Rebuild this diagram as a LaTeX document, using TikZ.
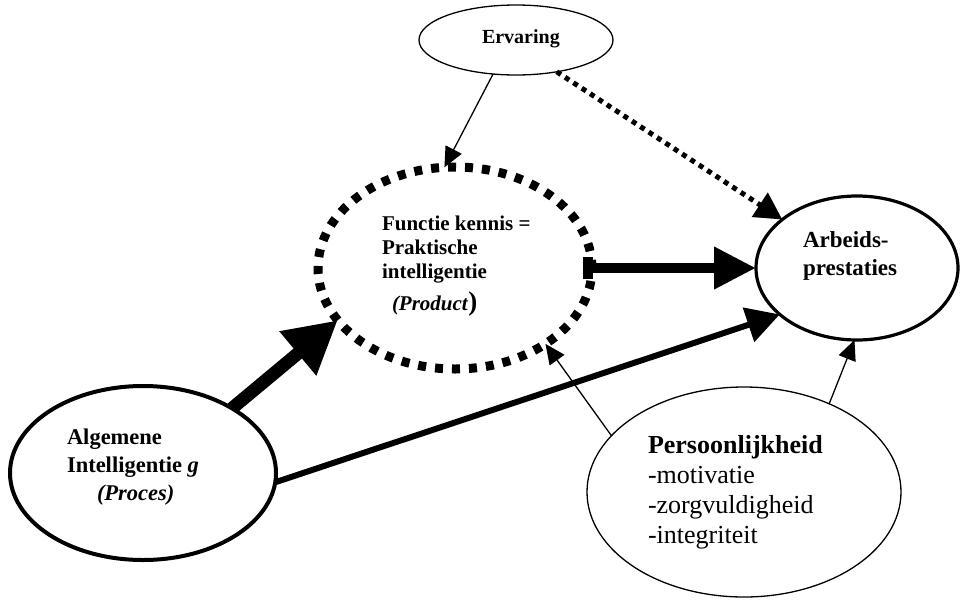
\documentclass[tikz,border=0pt]{standalone}
\usepackage{fontspec}
\setmainfont{Liberation Serif}
\usetikzlibrary{arrows.meta,shapes.geometric}
\begin{document}
\begin{tikzpicture}[x=1pt,y=-1pt,
  ell/.style={draw, ellipse, inner sep=0pt, outer sep=0pt},
  txt/.style={inner sep=0pt, outer sep=0pt, align=left, anchor=base west},
  thinarrow/.style={line width=1.3pt, -{Triangle[length=20pt,width=18pt]}}]
\useasboundingbox (0,0) rectangle (961,600);
% ellipses
\node[ell, line width=1.3pt, minimum width=194pt, minimum height=70pt] (erv) at (516,40) {};
\node[ell, line width=9pt, dash pattern=on 8pt off 9pt, minimum width=274pt, minimum height=202pt] (fun) at (455,268) {};
\node[ell, line width=3.2pt, minimum width=202pt, minimum height=144pt] (arb) at (857,268) {};
\node[ell, line width=4pt, minimum width=266pt, minimum height=174pt] (alg) at (143,473) {};
\node[ell, line width=1.3pt, minimum width=314pt, minimum height=210pt] (per) at (744,492) {};
% texts (anchored at the baseline of their last line)
\node[txt, font=\bfseries\fontsize{20}{24}\selectfont] (tErv) at (482,43) {Ervaring};
\node[txt, font=\bfseries\fontsize{21}{24}\selectfont] (tFun) at (382,310) {Functie kennis =\\Praktische\\intelligentie\\[8pt]\hspace*{10pt}\textit{(Product}{\fontsize{27}{27}\selectfont)}};
\node[txt, font=\bfseries\fontsize{22.5}{28}\selectfont] (tAlg) at (67,500) {Algemene\\Intelligentie \textit{g}\\\hspace*{30pt}\textit{(Proces)}};
\node[txt, font=\bfseries\fontsize{23}{28}\selectfont] (tArb) at (803,275) {Arbeids-\\prestaties};
\node[txt, font=\fontsize{26}{30}\selectfont] (tPer) at (648,543) {\textbf{Persoonlijkheid}\\-motivatie\\-zorgvuldigheid\\-integriteit};
% connectors
\draw[thinarrow] (erv.-124) -- (fun.96);
\draw[line width=5pt, dash pattern=on 5pt off 5pt, -{Triangle[length=27pt,width=28pt]}] (erv.-38) -- (arb.147);
\draw[line width=10pt, shorten <=-9pt, {Rectangle[length=10pt,width=22pt]}-{Triangle[length=42pt,width=40pt]}] (fun.east) -- (arb.west);
\draw[line width=13pt, -{Triangle[length=52pt,width=54pt]}] (alg.36) -- (fun.204);
\draw[line width=6pt, -{Triangle[length=33pt,width=35pt]}] (alg.-4) -- (arb.211);
\draw[thinarrow] (per.157) -- (fun.-40);
\draw[thinarrow] (per.46) -- (arb.-92);
\end{tikzpicture}
\end{document}
